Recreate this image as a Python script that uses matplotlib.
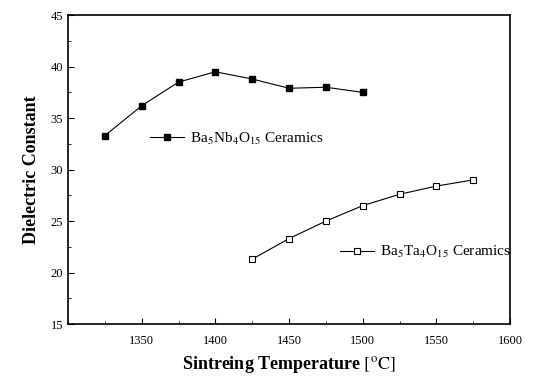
import matplotlib.pyplot as plt
from matplotlib.ticker import MultipleLocator

plt.rcParams['font.family'] = ['Liberation Serif', 'DejaVu Serif']
plt.rcParams['mathtext.fontset'] = 'stix'

# data
temp_nb = [1325, 1350, 1375, 1400, 1425, 1450, 1475, 1500]
eps_nb = [33.3, 36.2, 38.5, 39.5, 38.8, 37.9, 38.0, 37.5]
temp_ta = [1425, 1450, 1475, 1500, 1525, 1550, 1575]
eps_ta = [21.3, 23.3, 25.0, 26.5, 27.6, 28.4, 29.0]

fig = plt.figure(figsize=(5.42, 3.79), dpi=100)
ax = fig.add_axes([0.1255, 0.145, 0.8155, 0.815])

l1, = ax.plot(temp_nb, eps_nb, color='black', lw=0.8, marker='s', ms=5,
              mfc='black', mec='black')
l2, = ax.plot(temp_ta, eps_ta, color='black', lw=0.8, marker='s', ms=5,
              mfc='white', mec='black', mew=0.8)

leg1 = ax.legend([l1], [r'Ba$_5$Nb$_4$O$_{15}$ Ceramics'], loc='center left',
                 bbox_to_anchor=(0.155, 0.60), frameon=False, fontsize=11,
                 handlelength=2.2, handletextpad=0.4)
ax.add_artist(leg1)
ax.legend([l2], [r'Ba$_5$Ta$_4$O$_{15}$ Ceramics'], loc='center left',
          bbox_to_anchor=(0.585, 0.233), frameon=False, fontsize=11,
          handlelength=2.2, handletextpad=0.4)

ax.set_xlim(1300, 1600)
ax.set_ylim(15, 45)
ax.xaxis.set_major_locator(MultipleLocator(50))
ax.xaxis.set_minor_locator(MultipleLocator(25))
ax.yaxis.set_major_locator(MultipleLocator(5))
ax.yaxis.set_minor_locator(MultipleLocator(2.5))
ax.set_xticks([1350, 1400, 1450, 1500, 1550, 1600])
ax.tick_params(which='both', direction='in', labelsize=9)
ax.tick_params(which='major', length=4)
ax.tick_params(which='minor', length=2)
ax.tick_params(axis='x', pad=8)
for s in ax.spines.values():
    s.set_linewidth(1.2)

ax.set_xlabel(r'Sintreing Temperature $\left[^{\mathrm{o}}\mathrm{C}\right]$', fontsize=13,
              fontweight='bold', labelpad=5)
ax.set_ylabel('Dielectric Constant', fontsize=13, fontweight='bold', labelpad=8)

fig.savefig('out.png', dpi=100)
